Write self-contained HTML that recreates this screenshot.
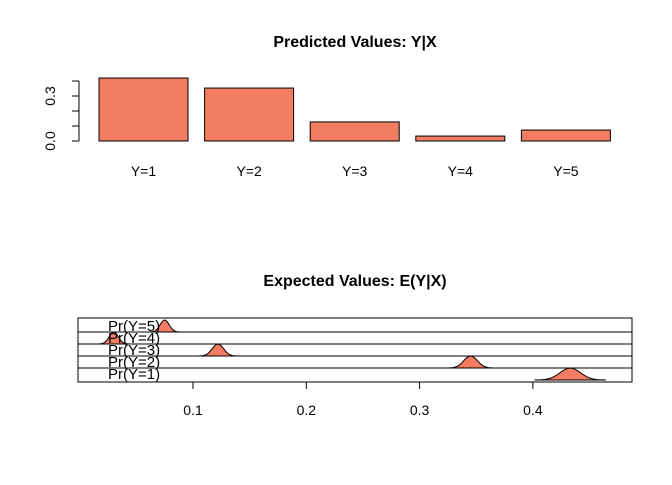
<!DOCTYPE html>
<html><head><meta charset="utf-8"><style>body{margin:0;background:#fff}svg text{font-family:"Liberation Sans",Arial,sans-serif}</style></head>
<body>
<svg width="672" height="480" viewBox="0 0 672 480">
<text x="355" y="47" text-anchor="middle" font-size="16" font-weight="bold">Predicted Values: Y|X</text>
<g id="topg"></g>
<text x="355" y="286" text-anchor="middle" font-size="16" font-weight="bold">Expected Values: E(Y|X)</text>
<g id="botg"></g>
</svg>
<script>
const categories=["Y=1","Y=2","Y=3","Y=4","Y=5"];
const probs=[0.42,0.353,0.127,0.033,0.073];
const yTicks=[0,0.1,0.2,0.3,0.4];
const yTickLabels=["0.0","","","0.3",""];
const evLabels=["Pr(Y=1)","Pr(Y=2)","Pr(Y=3)","Pr(Y=4)","Pr(Y=5)"];
const evMeans=[0.433,0.345,0.122,0.030,0.075];
const evSds=[0.009,0.006,0.005,0.004,0.004];
const xTicks=[0.1,0.2,0.3,0.4];
const NS="http://www.w3.org/2000/svg";
function mk(p,t,a){const e=document.createElementNS(NS,t);for(const k in a)e.setAttribute(k,a[k]);p.appendChild(e);return e;}
const topG=document.getElementById('topg');
const yS=v=>141-v*150;
const bx=i=>99+i*105.6;
const ya=mk(topG,'line',{x1:79,x2:79,y1:yS(0.4),y2:yS(0),stroke:'#000'});


yTicks.forEach((t,i)=>{
 const l=mk(topG,'line',{x1:72,x2:79,y1:yS(t),y2:yS(t),stroke:'#000'});
 
 
 if(yTickLabels[i]){const tx=mk(topG,'text',{x:0,y:0,transform:`translate(55,${yS(t)}) rotate(-90)`,'text-anchor':'middle','font-size':14});tx.textContent=yTickLabels[i];
 
 }
});
probs.forEach((p,i)=>{
 const r=mk(topG,'rect',{x:bx(i),y:yS(p),width:89,height:yS(0)-yS(p),fill:'#f27d62',stroke:'#000','stroke-width':1});
 
 
 const t=mk(topG,'text',{x:bx(i)+44.5,y:176,'text-anchor':'middle','font-size':14});t.textContent=categories[i];
 
 
});
const botG=document.getElementById('botg');
const xS=v=>79.7+v*1133;
const L=78,R=632,T=318,B=382;
const base=i=>380-i*12;
const box=mk(botG,'rect',{x:L,y:T,width:R-L,height:B-T,fill:'none',stroke:'#000'});


evMeans.forEach((m,i)=>{
 const y0=base(i);
 if(i>0){const l=mk(botG,'line',{x1:L,x2:R,y1:y0,y2:y0,stroke:'#000'});
 
 }
 const s=evSds[i];let d='';
 for(let k=-3.5;k<=3.5;k+=0.25){const v=m+k*s;const h=12*Math.exp(-k*k/2);d+=(d?'L':'M')+xS(v).toFixed(1)+','+(y0-h).toFixed(1);}
 const p=mk(botG,'path',{d:d+'Z',fill:'#f27d62',stroke:'#000','stroke-width':1});
 
 
 const t=mk(botG,'text',{x:108,y:y0-1,'font-size':15});t.textContent=evLabels[i];
 
 
});
xTicks.forEach(t=>{
 const l=mk(botG,'line',{x1:xS(t),x2:xS(t),y1:B,y2:B+7,stroke:'#000'});
 
 
 const tx=mk(botG,'text',{x:xS(t),y:415,'text-anchor':'middle','font-size':14});tx.textContent=t.toFixed(1);
 
 
});
</script>
</body></html>
